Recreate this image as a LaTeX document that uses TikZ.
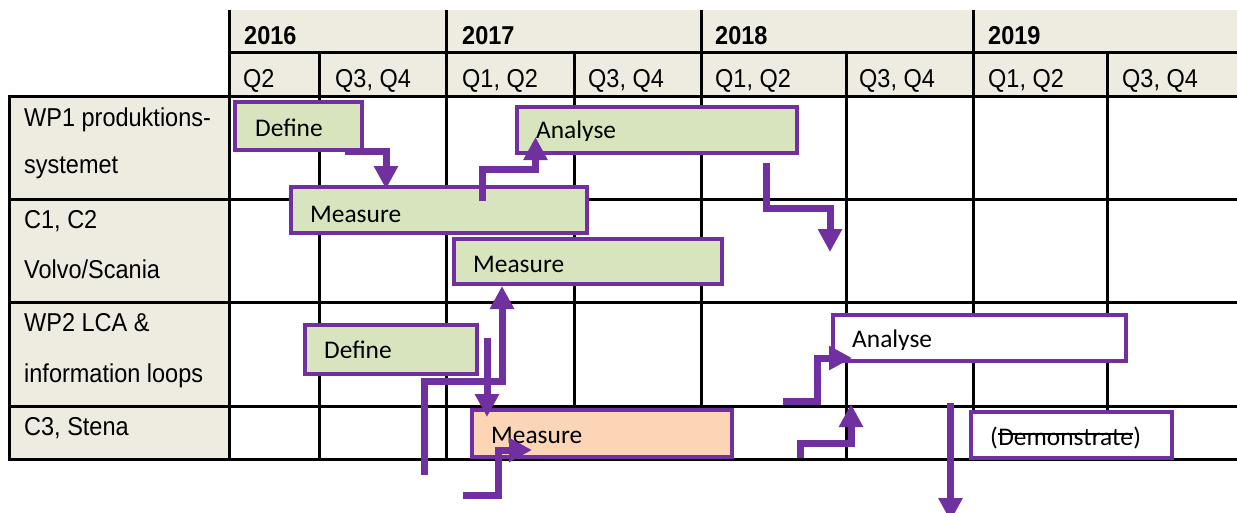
\documentclass[tikz,border=0pt]{standalone}
\usepackage{fontspec}
\setmainfont{Liberation Sans}
\newfontfamily\barfont{Carlito}
\usetikzlibrary{arrows.meta}
\definecolor{hdr}{HTML}{EEECE1}
\definecolor{grn}{HTML}{D7E4BD}
\definecolor{pur}{HTML}{7030A0}
\definecolor{pch}{HTML}{FBD5B5}
\newcommand{\tall}[1]{\scalebox{1}[1.1]{#1}}
\begin{document}
\begin{tikzpicture}[x=1pt,y=-1pt,
  gridline/.style={line width=3pt, black},
  tcell/.style={anchor=base west, inner sep=0pt, font=\fontsize{23.5}{28}\selectfont},
  ycell/.style={anchor=base west, inner sep=0pt, font=\fontsize{23.5}{28}\selectfont\bfseries},
  barbox/.style={draw=pur, line width=3.5pt, anchor=north west, inner sep=0pt},
  bartext/.style={anchor=base west, inner sep=0pt, font=\fontsize{25.4}{30}\selectfont\barfont},
  flowarrow/.style={draw=pur, line width=7pt, line join=miter, -{Triangle[width=23pt,length=23pt]}}]
\clip (0,0) rectangle (1237,512);
\fill[white] (0,0) rectangle (1237,512);
% backgrounds
\fill[hdr] (229,10) rectangle (1237,96);
\fill[hdr] (9,96) rectangle (229,459);
% grid
\foreach \x in {229,446,701,973} \draw[gridline] (\x,10) -- (\x,460.5);
\foreach \x in {319,574,846,1107} \draw[gridline] (\x,52) -- (\x,460.5);
\draw[gridline] (9,94.5) -- (9,460.5);
\draw[gridline] (229,52) -- (1237,52);
\foreach \y in {96,199,302,406,459} \draw[gridline] (7.5,\y) -- (1237,\y);
% header texts
\node[ycell] (y16) at (244,44) {\tall{2016}};
\node[ycell] (y17) at (462,44) {\tall{2017}};
\node[ycell] (y18) at (715,44) {\tall{2018}};
\node[ycell] (y19) at (988,44) {\tall{2019}};
\node[tcell] (q1) at (243,87) {\tall{Q2}};
\node[tcell] (q2) at (335,87) {\tall{Q3, Q4}};
\node[tcell] (q3) at (462,87) {\tall{Q1, Q2}};
\node[tcell] (q4) at (588,87) {\tall{Q3, Q4}};
\node[tcell] (q5) at (715,87) {\tall{Q1, Q2}};
\node[tcell] (q6) at (859,87) {\tall{Q3, Q4}};
\node[tcell] (q7) at (988,87) {\tall{Q1, Q2}};
\node[tcell] (q8) at (1122,87) {\tall{Q3, Q4}};
% row labels
\node[tcell] (r1a) at (24,126) {\tall{WP1 produktions-}};
\node[tcell] (r1b) at (24,173) {\tall{systemet}};
\node[tcell] (r2a) at (24,228) {\tall{C1, C2}};
\node[tcell] (r2b) at (24,278) {\tall{Volvo/Scania}};
\node[tcell] (r3a) at (24,331) {\tall{WP2 LCA \&}};
\node[tcell] (r3b) at (24,382) {\tall{information loops}};
\node[tcell] (r4a) at (24,435) {\tall{C3, Stena}};
% bars
\node[barbox, fill=grn, minimum width=127pt, minimum height=48pt] (wp1def) at (233,100) {};
\node[barbox, fill=grn, minimum width=280pt, minimum height=46pt] (wp1ana) at (515,105) {};
\node[barbox, fill=grn, minimum width=296pt, minimum height=46pt] (meas1) at (289,185) {};
\node[barbox, fill=grn, minimum width=268pt, minimum height=45pt] (meas2) at (452,237) {};
\node[barbox, fill=grn, minimum width=172pt, minimum height=49pt] (wp2def) at (303,323) {};
\node[barbox, fill=white, minimum width=293pt, minimum height=46pt] (wp2ana) at (831,313) {};
\node[barbox, fill=pch, minimum width=260pt, minimum height=47pt] (meas3) at (470,408) {};
\node[barbox, fill=white, minimum width=201pt, minimum height=46pt] (demo) at (969,410) {};
% bar texts
\node[bartext] (t1) at (255,136) {Define};
\begin{scope}
\clip (515,105) rectangle (795,140.5);
\node[bartext] (t2) at (536,138) {Analyse};
\end{scope}
\node[bartext] (t3) at (310,222) {Measure};
\node[bartext] (t4) at (473,272) {Measure};
\node[bartext] (t5) at (324,358) {Define};
\begin{scope}
\clip (831,313) rectangle (1124,349.5);
\node[bartext] (t6) at (852,347) {Analyse};
\end{scope}
\node[bartext] (t7) at (491,443) {Measure};
\node[bartext] (dl) at (990,445) {(};
\node[bartext] (dm) at (dl.base east) {Demonstrate};
\node[bartext] (dr) at (dm.base east) {)};
\draw[line width=2pt] ([yshift=11pt]dm.base west) -- ([yshift=11pt]dm.base east);
% arrows
\coordinate (a1s) at (345,151); \coordinate (a1e) at (386,189);
\draw[flowarrow] (a1s) -| (a1e);
\coordinate (a2s) at (482,201); \coordinate (a2e) at (535.5,137);
\draw[flowarrow] (a2s) -- (482,169.5) -| (a2e);
\coordinate (a3s) at (766,163); \coordinate (a3e) at (830,252);
\draw[flowarrow] (a3s) -- (766,208) -| (a3e);
\coordinate (a4s) at (424.5,475); \coordinate (a4e) at (502,286);
\draw[flowarrow] (a4s) -- (424.5,381) -| (a4e);
\coordinate (a5s) at (487,338); \coordinate (a5e) at (487,417);
\draw[flowarrow] (a5s) -- (a5e);
\coordinate (a6s) at (463,495); \coordinate (a6e) at (532,450);
\draw[flowarrow] (a6s) -| (498,450) -- (a6e);
\coordinate (a7s) at (783,401); \coordinate (a7e) at (852,358);
\draw[flowarrow] (a7s) -| (817.5,358) -- (a7e);
\coordinate (a8s) at (800.5,458); \coordinate (a8e) at (851,404);
\draw[flowarrow] (a8s) |- (851,443) -- (a8e);
\coordinate (a9s) at (950.5,403); \coordinate (a9e) at (950.5,521);
\draw[flowarrow] (a9s) -- (a9e);
\end{tikzpicture}
\end{document}
